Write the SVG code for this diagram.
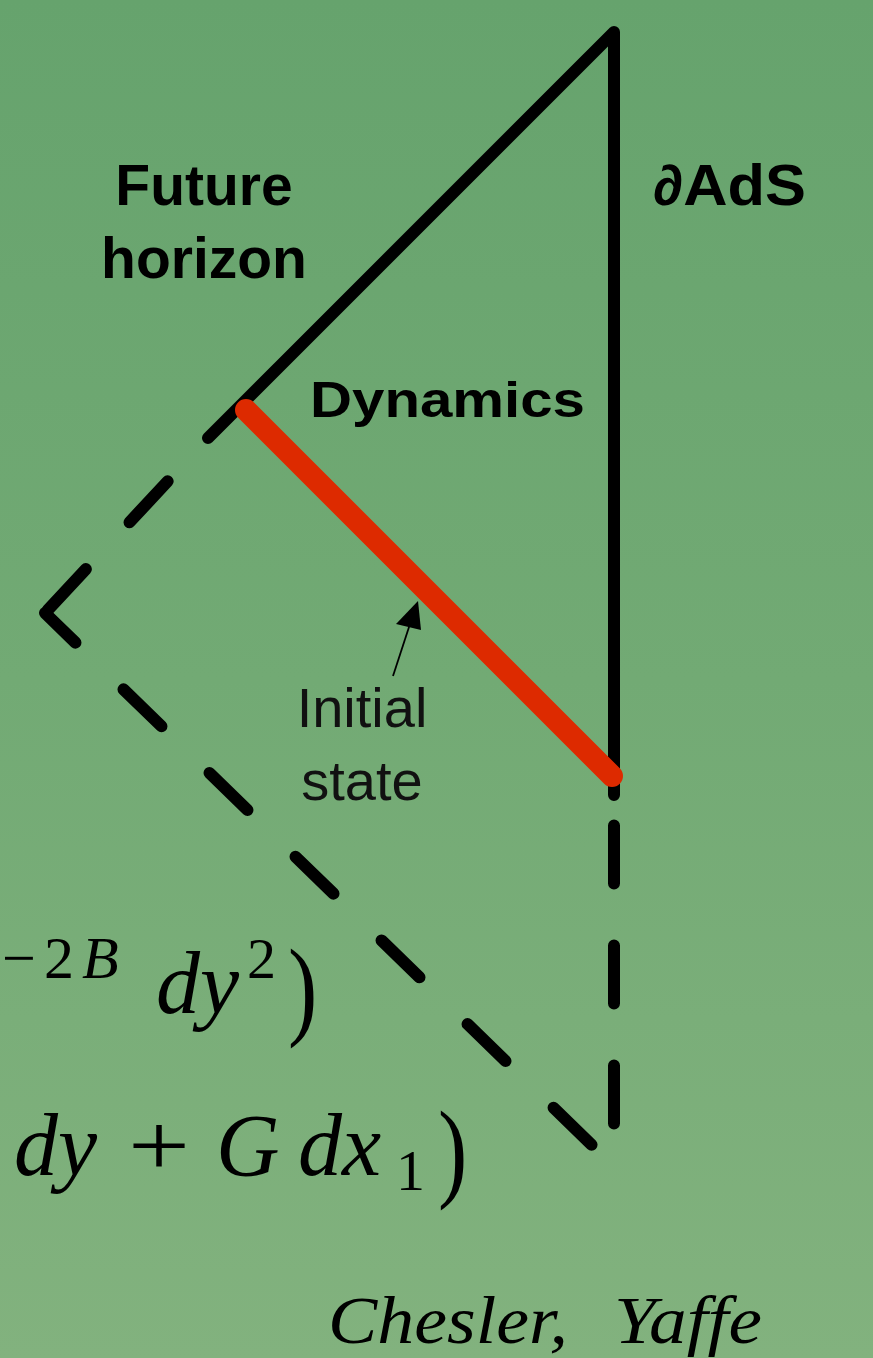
<svg xmlns="http://www.w3.org/2000/svg" width="873" height="1358" viewBox="0 0 873 1358">
<defs>
<linearGradient id="bg" x1="0" y1="0" x2="0" y2="1">
<stop offset="0" stop-color="#66a36d"/>
<stop offset="0.5" stop-color="#72aa74"/>
<stop offset="1" stop-color="#82b27e"/>
</linearGradient>
<style>
.blk{fill:none;stroke:#000;stroke-width:12;stroke-linecap:round;stroke-linejoin:round}
.lbl{font-family:"Liberation Sans",Arial,sans-serif;font-weight:bold;fill:#000}
.reg{font-family:"Liberation Sans",Arial,sans-serif;fill:#111}
.math{font-family:"Liberation Serif","Times New Roman",serif;fill:#000}
.it{font-style:italic}
</style>
</defs>
<rect width="873" height="1358" fill="url(#bg)"/>
<g id="connectors">
<path id="horizon-boundary" class="blk" d="M208 438 L614 32 L614 795"/>
<path id="past-horizon" class="blk" d="M45 613 L208 438" stroke-dasharray="56 64" stroke-dashoffset="-4"/>
<path id="past-lower" class="blk" d="M45 613 L597 1150" stroke-dasharray="53 67" stroke-dashoffset="10.5"/>
<path id="boundary-past" class="blk" d="M614 795 L614 1124" stroke-dasharray="58 62" stroke-dashoffset="89.5"/>
<line id="initial-arrow" x1="393" y1="676" x2="410" y2="624" stroke="#000" stroke-width="1.8"/>
<polygon points="418,601 396,624 421,630" fill="#000"/>
</g>
<g id="initial-state">
<line x1="246" y1="410" x2="612" y2="776" stroke="#dd2a00" stroke-width="22" stroke-linecap="round"/>
</g>
<g id="label-future-horizon">
<text class="lbl" x="204" y="205" font-size="57" text-anchor="middle">Future</text>
<text class="lbl" x="204" y="278" font-size="57" text-anchor="middle">horizon</text>
</g>
<g id="label-dads">
<text class="lbl" x="653" y="205" font-size="57" textLength="153" lengthAdjust="spacingAndGlyphs">∂AdS</text>
</g>
<g id="label-dynamics">
<text class="lbl" x="310" y="417" font-size="50" textLength="275" lengthAdjust="spacingAndGlyphs">Dynamics</text>
</g>
<g id="label-initial-state">
<text class="reg" x="362" y="727" font-size="56" text-anchor="middle">Initial</text>
<text class="reg" x="362" y="800" font-size="56" text-anchor="middle">state</text>
</g>
<g id="equation-1">
<text class="math" x="2" y="978" font-size="60">−</text>
<text class="math" x="44" y="978" font-size="60">2</text>
<text class="math it" x="82" y="978" font-size="60">B</text>
<text class="math it" x="156" y="1013" font-size="88">dy</text>
<text class="math" x="247" y="978" font-size="58">2</text>
<text class="math" x="288" y="1025" font-size="88" transform="translate(288 1025) scale(1 1.25) translate(-288 -1025)">)</text>
</g>
<g id="equation-2">
<text class="math it" x="14" y="1175" font-size="88">dy</text>
<text class="math" x="128" y="1175" font-size="88" textLength="62" lengthAdjust="spacingAndGlyphs">+</text>
<text class="math it" x="216" y="1175" font-size="88">G</text>
<text class="math it" x="298" y="1175" font-size="88">dx</text>
<text class="math" x="396" y="1190" font-size="58">1</text>
<text class="math" x="438" y="1187" font-size="88" transform="translate(438 1187) scale(1 1.25) translate(-438 -1187)">)</text>
</g>
<g id="citation">
<text class="math it" x="328" y="1343" font-size="68" textLength="240" lengthAdjust="spacingAndGlyphs">Chesler,</text>
<text class="math it" x="614" y="1343" font-size="68" textLength="148" lengthAdjust="spacingAndGlyphs">Yaffe</text>
</g>
</svg>
